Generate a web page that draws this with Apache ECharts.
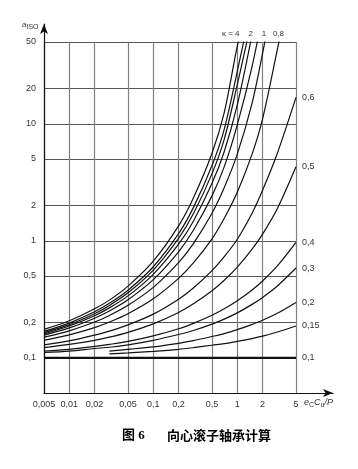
<!DOCTYPE html>
<html><head><meta charset="utf-8">
<script src="https://cdn.jsdelivr.net/npm/echarts@6/dist/echarts.min.js"></script>
<style>html,body{margin:0;padding:0;background:#fff}#c{width:358px;height:469px}</style>
</head><body><div id="c"></div>
<script>
// x samples (e_C C_u / P)
const xSamples = [0.005, 0.01, 0.02, 0.03, 0.05, 0.1, 0.2, 0.3, 0.5, 0.7, 1, 1.5, 2, 3, 5];
// a_ISO values read for each κ curve (values above 50 run off the top of the chart)
const k4   = [0.175, 0.207, 0.262, 0.311, 0.410, 0.670, 1.34, 2.32, 5.6, 12.5, 46, 160, null, null, null];
const k3   = [0.168, 0.198, 0.247, 0.292, 0.378, 0.600, 1.15, 1.92, 4.4, 9.0, 28, 110, null, null, null];
const k25  = [0.164, 0.192, 0.238, 0.280, 0.359, 0.562, 1.05, 1.70, 3.75, 7.4, 21.6, 80, null, null, null];
const k2   = [0.160, 0.187, 0.229, 0.267, 0.338, 0.517, 0.935, 1.47, 3.1, 5.8, 14.5, 57.7, 160, null, null];
const k15  = [0.156, 0.180, 0.218, 0.251, 0.313, 0.465, 0.805, 1.23, 2.42, 4.3, 9.8, 31, 85, null, null];
const k1   = [0.150, 0.170, 0.202, 0.230, 0.281, 0.400, 0.650, 0.945, 1.72, 2.85, 5.5, 15, 40, 180, null];
const k08  = [0.141, 0.157, 0.181, 0.202, 0.238, 0.319, 0.477, 0.646, 1.04, 1.56, 2.6, 5.5, 11, 43.2, 250];
const k06  = [0.129, 0.1395, 0.156, 0.169, 0.191, 0.236, 0.317, 0.395, 0.555, 0.731, 1.03, 1.72, 2.7, 5.6, 16.8];
const k05  = [0.122, 0.130, 0.141, 0.150, 0.165, 0.195, 0.244, 0.289, 0.374, 0.460, 0.595, 0.848, 1.14, 1.89, 4.30];
const k04  = [0.114, 0.118, 0.125, 0.130, 0.138, 0.154, 0.177, 0.197, 0.231, 0.262, 0.307, 0.380, 0.453, 0.609, 0.968];
const k03  = [0.111, 0.114, 0.120, 0.123, 0.129, 0.141, 0.158, 0.171, 0.194, 0.214, 0.242, 0.286, 0.328, 0.411, 0.585];
const k02  = [null, null, null, 0.114, 0.118, 0.124, 0.133, 0.140, 0.152, 0.161, 0.174, 0.193, 0.209, 0.240, 0.297];
const k015 = [null, null, null, 0.108, 0.110, 0.1135, 0.118, 0.122, 0.128, 0.132, 0.138, 0.146, 0.153, 0.166, 0.187];
const k01  = [0.1, 0.1, 0.1, 0.1, 0.1, 0.1, 0.1, 0.1, 0.1, 0.1, 0.1, 0.1, 0.1, 0.1, 0.1];
const kappaNames = ['4', '3', '2,5', '2', '1,5', '1', '0,8', '0,6', '0,5', '0,4', '0,3', '0,2', '0,15', '0,1'];
const curves = [k4, k3, k25, k2, k15, k1, k08, k06, k05, k04, k03, k02, k015, k01];
// axis ticks
const xTicks = [0.005, 0.01, 0.02, 0.05, 0.1, 0.2, 0.5, 1, 2, 5];
const xTickLabels = ['0,005', '0,01', '0,02', '0,05', '0,1', '0,2', '0,5', '1', '2', '5'];
const yTicks = [0.1, 0.2, 0.5, 1, 2, 5, 10, 20, 50];
const yTickLabels = ['0,1', '0,2', '0,5', '1', '2', '5', '10', '20', '50'];
const rightLabelled = ['0,6', '0,5', '0,4', '0,3', '0,2', '0,15', '0,1'];

const L = Math.log10;
const xLabelMap = {}; xTicks.forEach((v, i) => xLabelMap[L(v).toFixed(4)] = xTickLabels[i]);
const yLabelMap = {}; yTicks.forEach((v, i) => yLabelMap[L(v).toFixed(4)] = yTickLabels[i]);

const chart = echarts.init(document.getElementById('c'));
const font = 'Liberation Sans, Arial, sans-serif';
const series = curves.map((arr, i) => {
  const data = [];
  arr.forEach((v, j) => { if (v != null) data.push([L(xSamples[j]), L(v)]); });
  const rl = rightLabelled.includes(kappaNames[i]);
  return {
    type: 'line', xAxisIndex: 0, yAxisIndex: 0, data, smooth: 0.3,
    symbol: 'none', clip: true,
    lineStyle: { color: '#111', width: kappaNames[i] === '0,1' ? 2.2 : 1.2 },
    endLabel: rl ? { show: true, formatter: kappaNames[i], color: '#333', fontSize: 9, fontFamily: font, distance: 6 } : undefined,
    silent: true, animation: false, z: 3
  };
});
// decorative axis lines with arrows (second grid)
series.push({ type: 'line', xAxisIndex: 1, yAxisIndex: 1, data: [], symbol: 'none' });

chart.setOption({
  animation: false,
  grid: [
    { left: 44, right: 62, top: 42, bottom: 76, containLabel: false },
    { left: 44, right: 25, top: 24, bottom: 76, containLabel: false }
  ],
  xAxis: [{
    type: 'value', gridIndex: 0, min: L(0.005), max: L(5),
    axisLine: { show: false },
    axisTick: { show: false, customValues: xTicks.map(L) },
    axisLabel: { customValues: xTicks.map(L), formatter: v => xLabelMap[v.toFixed(4)] || '', color: '#333', fontSize: 9, fontFamily: font, margin: 7 },
    splitLine: { show: true, lineStyle: { color: '#808080', width: 1.2 } }
  }, {
    type: 'value', gridIndex: 1, min: 0, max: 1,
    axisLine: { show: true, symbol: ['none', 'arrow'], symbolSize: [6, 10], lineStyle: { color: '#111', width: 1.2 } },
    axisTick: { show: false }, axisLabel: { show: false }, splitLine: { show: false }
  }],
  yAxis: [{
    type: 'value', gridIndex: 0, min: L(0.05), max: L(50),
    axisLine: { show: false },
    axisTick: { show: false, customValues: yTicks.map(L) },
    axisLabel: { customValues: yTicks.map(L), formatter: v => yLabelMap[v.toFixed(4)] || '', color: '#333', fontSize: 9, fontFamily: font, margin: 8 },
    splitLine: { show: true, lineStyle: { color: '#555', width: 1 } }
  }, {
    type: 'value', gridIndex: 1, min: 0, max: 1,
    axisLine: { show: true, symbol: ['none', 'arrow'], symbolSize: [6, 10], lineStyle: { color: '#111', width: 1.2 } },
    axisTick: { show: false }, axisLabel: { show: false }, splitLine: { show: false }
  }],
  graphic: [
    { type: 'text', left: 22, top: 21, style: { text: 'a{s|ISO}', rich: { s: { fontSize: 7, fontStyle: 'normal', padding: [5, 0, 0, 0] } }, fontSize: 8, fontStyle: 'italic', fill: '#333', fontFamily: font } },
    { type: 'text', left: 304, top: 398, style: { text: 'e{s|C}C{s|u}/P', rich: { s: { fontSize: 7, fontStyle: 'normal', padding: [5, 0, 0, 0] } }, fontSize: 9, fontStyle: 'italic', fill: '#333', fontFamily: font } },
    { type: 'text', left: 222, top: 30, style: { text: '\u03ba = 4    2    1   0,8', fontSize: 8, fill: '#333', fontFamily: font } },
    { type: 'text', left: 122, top: 429, style: { text: '图 6', fontSize: 13, fontWeight: 'bold', fill: '#000', fontFamily: 'Liberation Serif, Noto Sans CJK SC' } },
    { type: 'text', left: 167, top: 429, style: { text: '向心滚子轴承计算', fontSize: 13, fontWeight: 'bold', fill: '#000', fontFamily: 'Noto Sans CJK SC' } }
  ],
  series
});
</script></body></html>
